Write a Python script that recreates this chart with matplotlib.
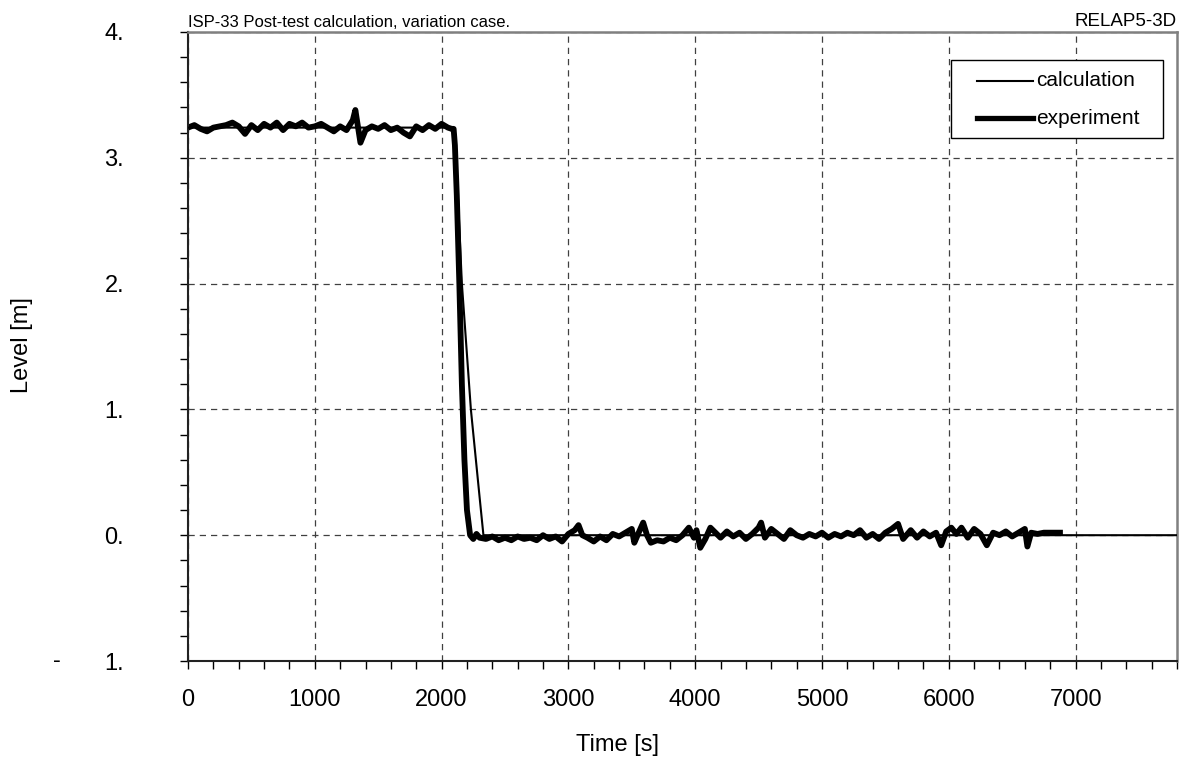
import matplotlib
matplotlib.use("Agg")
import matplotlib.pyplot as plt
from matplotlib.ticker import MultipleLocator, FixedLocator
from matplotlib.lines import Line2D
from matplotlib.patches import Rectangle

plt.rcParams["font.family"] = ["Liberation Sans", "DejaVu Sans"]

# calculation (RELAP5-3D)
calc_t = [0, 2090, 2105, 2115, 2160, 2231, 2300, 2330, 7900]
calc_level = [3.24, 3.24, 3.20, 3.00, 2.00, 1.00, 0.30, 0.00, 0.00]

# experiment
exp_t = [0, 50, 100, 150, 200, 250, 300, 350, 400, 450, 500, 550, 600, 650, 700,
         750, 800, 850, 900, 950, 1000, 1050, 1100, 1150, 1200, 1250, 1300, 1320,
         1340, 1360, 1400, 1450, 1500, 1550, 1600, 1650, 1700, 1750, 1800, 1850,
         1900, 1950, 2000, 2050, 2080,
         2095, 2105, 2120, 2140, 2160, 2180, 2200, 2225,
         2250, 2275, 2300, 2350, 2400, 2450, 2500, 2550, 2600, 2650, 2700, 2750,
         2800, 2850, 2900, 2950, 3000, 3050, 3080, 3110, 3150, 3200, 3250, 3300,
         3350, 3400, 3450, 3500, 3520, 3550, 3590, 3620, 3650, 3700, 3750, 3800,
         3850, 3900, 3950, 3990, 4010, 4040, 4080, 4120, 4160, 4200, 4250, 4300,
         4350, 4400, 4450, 4500, 4520, 4550, 4600, 4650, 4700, 4750, 4800, 4850,
         4900, 4950, 5000, 5050, 5100, 5150, 5200, 5250, 5300, 5350, 5400, 5450,
         5500, 5550, 5600, 5640, 5700, 5750, 5800, 5850, 5900, 5940, 5980, 6020,
         6060, 6100, 6150, 6200, 6250, 6300, 6350, 6400, 6450, 6500, 6550, 6600,
         6620, 6650, 6700, 6750, 6800, 6850, 6900]
exp_level = [3.24, 3.26, 3.23, 3.21, 3.24, 3.25, 3.26, 3.28, 3.25, 3.19, 3.26, 3.22,
             3.27, 3.24, 3.28, 3.22, 3.27, 3.25, 3.28, 3.24, 3.25, 3.27, 3.24, 3.21,
             3.25, 3.22, 3.30, 3.38, 3.25, 3.12, 3.22, 3.25, 3.23, 3.26, 3.22, 3.24,
             3.20, 3.17, 3.25, 3.22, 3.26, 3.23, 3.27, 3.24, 3.23,
             3.23, 3.10, 2.70, 2.00, 1.20, 0.60, 0.20, 0.00,
             -0.03, 0.01, -0.02, -0.03, -0.01, -0.04, -0.02, -0.04, -0.01, -0.03,
             -0.02, -0.04, 0.00, -0.03, -0.01, -0.05, 0.01, 0.04, 0.08, 0.00, -0.02,
             -0.05, -0.01, -0.04, 0.01, -0.01, 0.02, 0.05, -0.06, 0.01, 0.10, 0.00,
             -0.06, -0.04, -0.05, -0.02, -0.04, 0.00, 0.06, -0.02, 0.04, -0.10,
             -0.03, 0.06, 0.02, -0.02, 0.03, -0.01, 0.02, -0.03, 0.01, 0.06, 0.10,
             -0.02, 0.05, 0.01, -0.03, 0.04, 0.00, -0.02, 0.01, -0.01, 0.02, -0.02,
             0.01, -0.01, 0.02, 0.00, 0.04, -0.02, 0.01, -0.03, 0.02, 0.05, 0.09,
             -0.03, 0.04, -0.02, 0.03, -0.01, 0.02, -0.08, 0.03, 0.06, 0.01, 0.06,
             -0.02, 0.05, 0.01, -0.08, 0.02, 0.00, 0.03, -0.01, 0.02, 0.05, -0.09,
             0.02, 0.01, 0.02, 0.02, 0.02, 0.02]

y_ticks = [-1, 0, 1, 2, 3, 4]
y_labels = ["1.", "0.", "1.", "2.", "3.", "4."]
x_ticks = [0, 1000, 2000, 3000, 4000, 5000, 6000, 7000]
series_names = ["calculation", "experiment"]

W, H = 1191, 758
fig = plt.figure(figsize=(W / 100, H / 100), dpi=100)
ax = fig.add_axes([188 / W, 97 / H, 989 / W, 629 / H])

ax.plot(calc_t, calc_level, color="black", lw=1.5, zorder=3)
ax.plot(exp_t, exp_level, color="black", lw=4.2, solid_joinstyle="round",
        solid_capstyle="butt", zorder=2)

ax.set_xlim(0, 7800)
ax.set_ylim(-1, 4)
ax.xaxis.set_major_locator(FixedLocator(x_ticks))
ax.xaxis.set_minor_locator(MultipleLocator(200))
ax.yaxis.set_major_locator(FixedLocator(y_ticks))
ax.yaxis.set_minor_locator(MultipleLocator(0.2))
ax.set_yticklabels(y_labels)
for lab in ax.get_yticklabels():
    lab.set_va("center_baseline")

ax.tick_params(which="both", direction="out", length=6, width=1, color="black",
               top=False, right=False)
ax.tick_params(axis="x", which="major", labelsize=17, pad=14)
ax.tick_params(axis="y", which="major", labelsize=17, pad=40)

ax.grid(True, which="major", color="#404040", lw=0.9, linestyle=(0, (5, 4)))

for s in ["left", "bottom"]:
    ax.spines[s].set_color("#222222")
    ax.spines[s].set_linewidth(1.5)
for s in ["top", "right"]:
    ax.spines[s].set_color("#808080")
    ax.spines[s].set_linewidth(1.8)

# legend box drawn by hand (figure pixels -> fractions)
fig.patches.append(Rectangle((951 / W, 1 - 138 / H), 212 / W, 78 / H,
                             transform=fig.transFigure, facecolor="white",
                             edgecolor="black", lw=1.0, zorder=5))
for name, yy, lw in [(series_names[0], 81, 1.5), (series_names[1], 118, 3.8)]:
    fig.lines.append(Line2D([977 / W, 1033 / W], [1 - yy / H, 1 - yy / H],
                            transform=fig.transFigure, color="black", lw=lw, zorder=6))
    fig.text(1036 / W, 1 - yy / H, name, fontsize=15, ha="left", va="center",
             zorder=7)

ax.text(0, 1.003, "ISP-33 Post-test calculation, variation case.", transform=ax.transAxes,
        fontsize=12, ha="left", va="bottom")
ax.text(1, 1.003, "RELAP5-3D", transform=ax.transAxes, fontsize=13.5, ha="right",
        va="bottom")

fig.text(57 / W, 1 - 661 / H, "-", fontsize=17, ha="center", va="center")
fig.text(22 / W, 1 - 345 / H, "Level [m]", fontsize=17, rotation=90,
         ha="center", va="center")
fig.text(617 / W, 1 - 745 / H, "Time [s]", fontsize=17, ha="center", va="center")

fig.savefig("out.png", dpi=100)
